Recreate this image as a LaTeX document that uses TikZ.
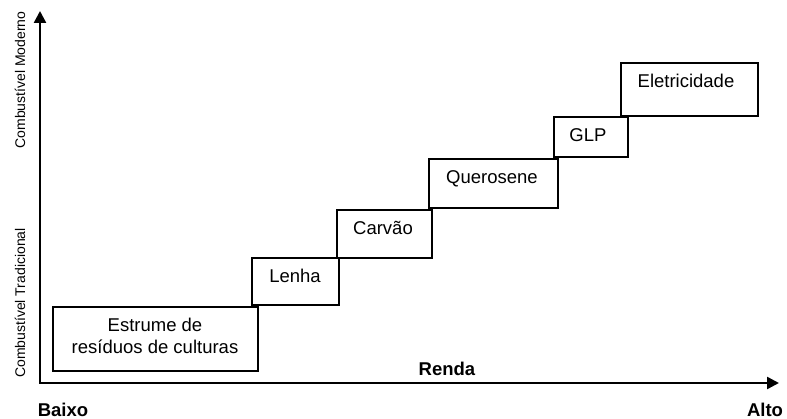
\documentclass[tikz,border=0pt]{standalone}
\usepackage{fontspec}
\setmainfont{Liberation Sans}
\usetikzlibrary{arrows.meta}
\newcommand{\px}{1pt}
\newcommand{\fsz}{\fontsize{18.5}{22}\selectfont}

\begin{document}
\begin{tikzpicture}[x=\px, y=-\px,
    box/.style={draw, rectangle, anchor=north west, line width=1.2pt, inner sep=0pt, outer sep=0pt},
    lbl/.style={anchor=base, font=\fsz, inner sep=0pt},
    axis/.style={line width=2.5pt, {Triangle[length=12pt,width=12pt]}-{Triangle[length=12pt,width=12pt]}},
    side/.style={rotate=90, font=\fontsize{14}{16}\selectfont, inner sep=0pt}]
    \useasboundingbox (0,0) rectangle (787,419);

    % Axes
    \coordinate (origin) at (40,383);
    \coordinate (ytop) at (40,11);
    \coordinate (xend) at (779,383);
    \draw[axis] (ytop) -- (origin) -- (xend);

    \node[side] (moderno) at (20,80) {Combustível Moderno};
    \node[side] (tradicional) at (20,303) {Combustível Tradicional};
    \node[lbl, font=\fsz\bfseries] (renda) at (447,376) {Renda};
    \node[lbl, font=\fsz\bfseries] (baixo) at (63,416) {Baixo};
    \node[lbl, font=\fsz\bfseries] (alto) at (765,416) {Alto};

    % Steps
    \node[box, minimum width=205pt, minimum height=64pt] (estrume) at (53,307) {};
    \node[box, minimum width=87pt, minimum height=47pt] (lenha) at (252,258) {};
    \node[box, minimum width=95pt, minimum height=48pt] (carvao) at (337,210) {};
    \node[box, minimum width=129pt, minimum height=49pt] (querosene) at (429,159) {};
    \node[box, minimum width=74pt, minimum height=40pt] (glp) at (554,117) {};
    \node[box, minimum width=137pt, minimum height=53pt] (eletricidade) at (621,63) {};

    \node[lbl] (estrume-1) at (155,332) {Estrume de};
    \node[lbl] (estrume-2) at (155,354) {resíduos de culturas};
    \node[lbl] (lenha-t) at (295,283) {Lenha};
    \node[lbl] (carvao-t) at (383,235) {Carvão};
    \node[lbl] (querosene-t) at (492,184) {Querosene};
    \node[lbl] (glp-t) at (588,142) {GLP};
    \node[lbl] (eletricidade-t) at (686,88) {Eletricidade};

\end{tikzpicture}
\end{document}
